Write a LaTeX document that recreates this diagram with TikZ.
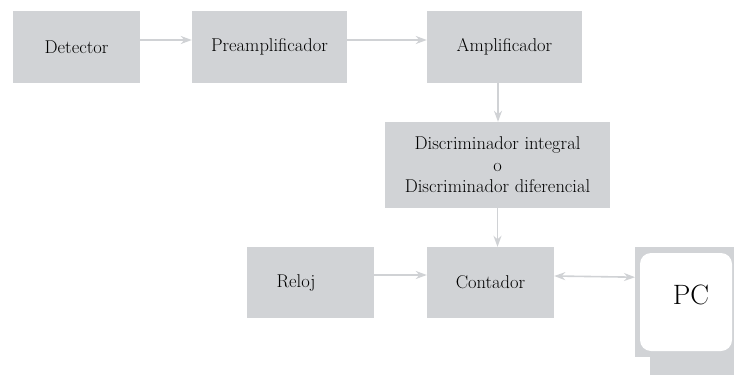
\documentclass[tikz,border=0pt]{standalone}
\usetikzlibrary{arrows.meta,positioning}
\definecolor{boxgray}{HTML}{D1D3D6}
\definecolor{arrgray}{HTML}{D0D2D5}
\begin{document}
\begin{tikzpicture}[x=1pt,y=-1pt,
  blk/.style={fill=boxgray,draw=none,inner sep=0pt,align=center,
    font=\fontsize{18.5}{21.5}\selectfont},
  conn/.style={draw=arrgray,line width=1.6pt,
    -{Stealth[length=11pt,width=8pt,inset=3.5pt]}},
  dconn/.style={draw=arrgray,line width=1.6pt,
    {Stealth[length=11pt,width=8pt,inset=3.5pt]}-{Stealth[length=11pt,width=8pt,inset=3.5pt]}}]
\useasboundingbox (0,0) rectangle (734,375);
\node[blk,minimum width=127pt,minimum height=72pt] (det) at (76.5,47) {Detector};
\node[blk,minimum width=155pt,minimum height=72pt] (pre) at (269.5,47) {Preamplificador};
\node[blk,minimum width=155pt,minimum height=72pt] (amp) at (504.5,47) {Amplificador};
\node[blk,minimum width=225pt,minimum height=86pt] (disc) at (497.5,165) {Discriminador integral\\o\\Discriminador diferencial};
\node[blk,minimum width=127pt,minimum height=71pt] (rel) at (310.5,282.5) {\hspace*{-29pt}Reloj};
\node[blk,minimum width=127pt,minimum height=71pt] (cont) at (490.5,282.5) {Contador};
% PC
\node[fill=boxgray,inner sep=0pt,minimum width=105pt,minimum height=110pt,anchor=north west] (pc) at (635,247) {};
\fill[boxgray] (650,357) rectangle (740,380);
\fill[white,rounded corners=11pt] (640,253) rectangle (732,351);
\node[font=\fontsize{28}{32}\selectfont,inner sep=0pt] (pct) at (691,295) {PC};
% connectors
\draw[conn] ([yshift=7pt]det.east) -- ([yshift=7pt]pre.west);
\draw[conn] ([yshift=7pt]pre.east) -- ([yshift=7pt]amp.west);
\draw[conn] ([xshift=-6.5pt]amp.south) -- ([xshift=-6.5pt]amp.south |- disc.north);
\draw[conn] (disc.south) -- (disc.south |- cont.north);
\draw[conn] ([yshift=7.5pt]rel.east) -- ([yshift=7.5pt]cont.west);
\draw[dconn] ([yshift=6.5pt]cont.east) -- ([yshift=25pt]pc.west);
\end{tikzpicture}
\end{document}
